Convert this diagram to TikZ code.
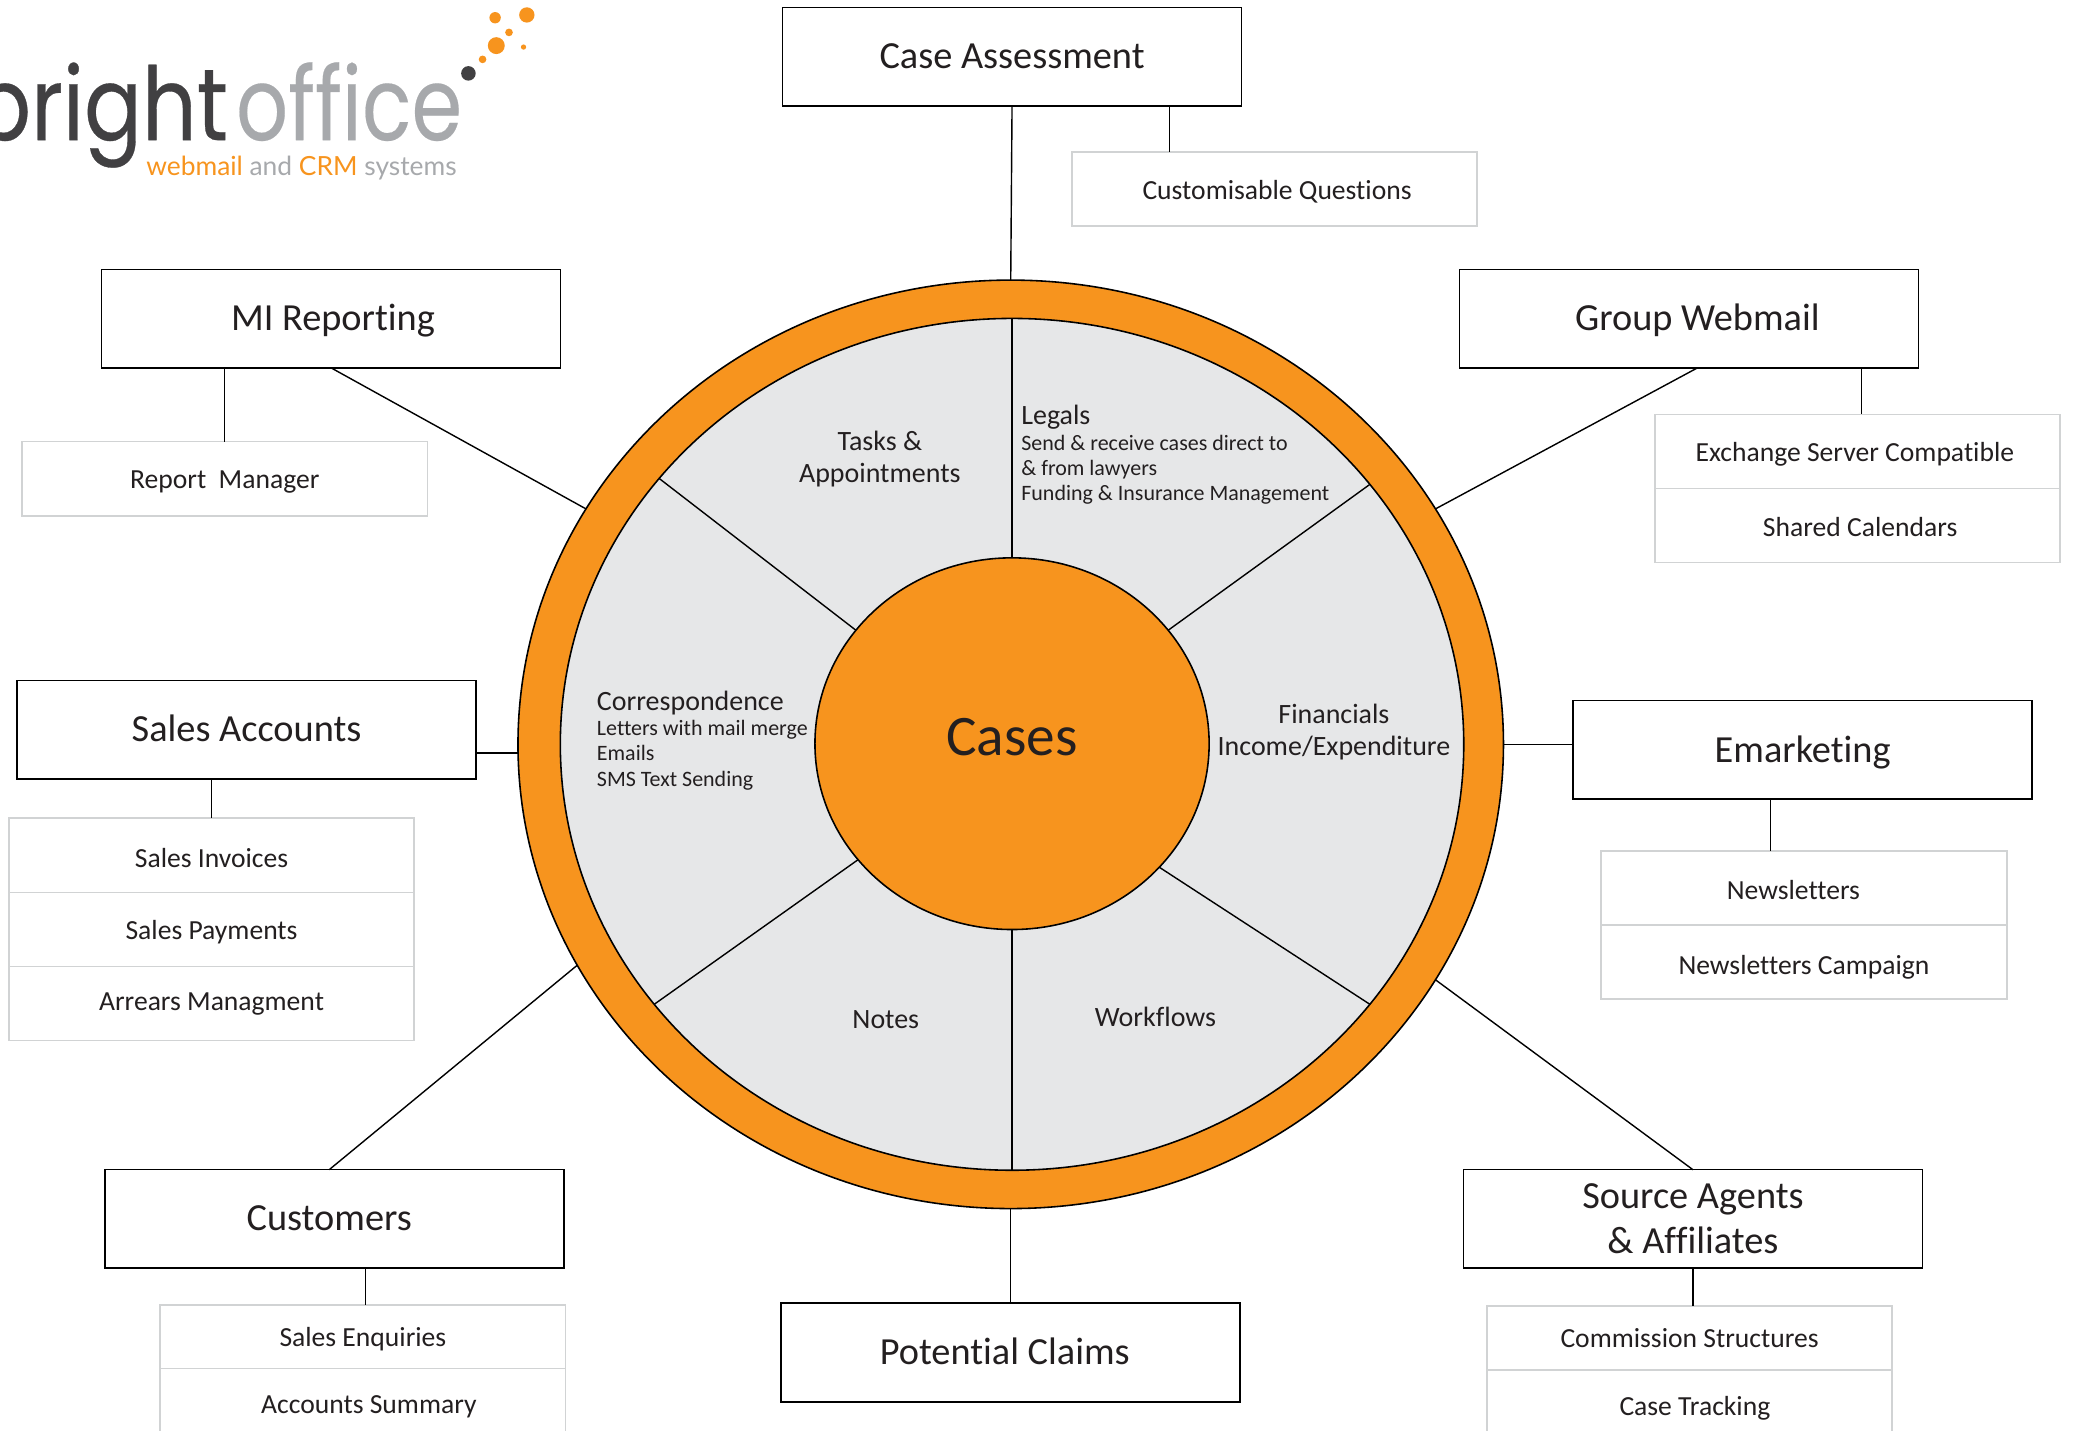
\documentclass[tikz,border=0pt]{standalone}
\usepackage{xcolor}
\usepackage{fontspec}
\usepackage{tikz}
\usetikzlibrary{positioning}
\usetikzlibrary{shapes.geometric}
\setmainfont[Ligatures=NoCommon]{Carlito}
\newfontfamily\brightfont[FakeStretch=0.84,FakeBold=0.3]{Poppins}
\newfontfamily\officefont[FakeStretch=0.8,FakeBold=0.2]{Poppins}
\newfontfamily\tagfont{Lato}
\definecolor{brightorange}{HTML}{F7941E}
\definecolor{wheelgrey}{HTML}{E6E7E8}
\definecolor{subline}{HTML}{D1D3D4}
\definecolor{inktext}{HTML}{231F20}
\definecolor{logodark}{HTML}{414042}
\definecolor{logogrey}{HTML}{A7A9AC}
\newcommand{\wedgehead}{\fontsize{7.95}{9.1}\selectfont}
\begin{document}
\begin{tikzpicture}[x=0.013221cm,y=-0.013221cm,
module/.style={draw=black,fill=white,rectangle,line width=0.45pt,inner sep=0pt,outer sep=0pt,
minimum width=4.588cm,minimum height=0.985cm,align=center,text=inktext,text height=6.6pt,text depth=0pt,font=\fontsize{10.9}{12.7}\selectfont},
feature/.style={draw=subline,fill=white,rectangle,line width=0.5pt,inner sep=0pt,outer sep=0pt,
minimum width=4.052cm,minimum height=0.74cm,align=center,text=inktext,text height=5.5pt,text depth=0pt,font=\fontsize{7.85}{10}\selectfont,node distance=0pt},
wedge/.style={inner sep=0pt,align=center,text=inktext,font=\wedgehead},
detail/.style={inner sep=0pt,align=left,text=inktext,font=\fontsize{6.25}{7.2}\selectfont},
disc/.style={draw=black,ellipse,line width=0.45pt,inner sep=0pt,outer sep=0pt},
link/.style={draw=black,line width=0.4pt}]
\clip (0,0) rectangle (1568,1082);

% logo
\node[anchor=base east,inner sep=0pt,text=logodark,font=\brightfont\fontsize{29}{30}\selectfont] (bright) at (173,106) {bright};
\node[anchor=base west,inner sep=0pt,text=logogrey,font=\officefont\fontsize{29}{30}\selectfont] (office) at (178,106) {office};
\node[anchor=base east,inner sep=0pt,font=\tagfont\fontsize{7.5}{9}\selectfont] (tagline) at (346,133) {\textcolor{brightorange}{webmail} \textcolor{logogrey}{and} \textcolor{brightorange}{CRM} \textcolor{logogrey}{systems}};
\fill[brightorange] (398.5,11.3) circle (5.8);
\fill[brightorange] (374.5,13.4) circle (4.3);
\fill[brightorange] (385,24.5) circle (2.9);
\fill[brightorange] (375.4,34.5) circle (6.4);
\fill[brightorange] (396,35.6) circle (2);
\fill[brightorange] (365,44.9) circle (2.9);
\fill[logodark] (354.3,55.5) circle (5.5);

% wheel
\node[disc,fill=brightorange,minimum width=9.85cm,minimum height=9.28cm] (ring) at (764.5,563) {};
\node[disc,fill=wheelgrey,minimum width=9.03cm,minimum height=8.514cm] (wheel) at (765.5,563) {};
\node[disc,fill=brightorange,minimum width=3.94cm,minimum height=3.715cm,text=inktext,text height=6.6pt,text depth=0pt,font=\fontsize{16.3}{18}\selectfont] (cases) at (765.5,562.5) {Cases};

\draw[link] (cases.90) -- (wheel.90);
\draw[link] (cases.36.7) -- (wheel.36.55);
\draw[link] (cases.-40) -- (wheel.-36.9);
\draw[link] (cases.-90) -- (wheel.-90);
\draw[link] (cases.217.1) -- (wheel.216.9);
\draw[link] (cases.144.8) -- (wheel.143.7);

\node[wedge] (tasks) at (665.5,347) {Tasks \&\\Appointments};
\node[wedge] (financials) at (1009,553.5) {Financials\\Income/Expenditure};
\node[wedge] (notes) at (670,771) {Notes};
\node[wedge] (workflows) at (874,769) {Workflows};
\node[detail,anchor=north west] (legals) at (772,306) {{\wedgehead Legals}\\Send \& receive cases direct to\\\& from lawyers\\Funding \& Insurance Management};
\node[detail,anchor=north west] (correspondence) at (451,522) {{\wedgehead Correspondence}\\Letters with mail merge\\Emails\\SMS Text Sending};

% main modules
\node[module] (assessment) at (765.5,43) {Case Assessment};
\node[module,text height=6.9pt] (reporting) at (250.5,241) {\hspace*{1pt}MI Reporting};
\node[module,text height=6.9pt] (webmail) at (1277.5,241) {\hspace*{4.8pt}Group Webmail};
\node[module] (accounts) at (186.5,552) {Sales Accounts};
\node[module,text height=7.6pt] (emarketing) at (1363.5,567) {Emarketing};
\node[module] (customers) at (253,922) {\hspace*{-1.5pt}Customers\hspace*{1.5pt}};
\node[module,text height=,text depth=] (agents) at (1280.5,922) {Source Agents\\\& Affiliates};
\node[module] (claims) at (764.5,1023) {\hspace*{-1.7pt}Potential Claims\hspace*{1.7pt}};

% features
\node[feature,text height=6.2pt] (questions) at (964,143) {\hspace*{1.5pt}Customisable Questions};
\node[feature] (manager) at (170,362) {Report~ Manager};
\node[feature] (exchange) at (1405,341.5) {\hspace*{-0.75pt}Exchange Server Compatible\hspace*{0.75pt}};
\node[feature,text height=6pt] (calendars) [below=of exchange] {\hspace*{1.5pt}Shared Calendars};
\node[feature,text height=6.7pt] (invoices) at (160,647) {Sales Invoices};
\node[feature] (payments) [below=of invoices] {Sales Payments};
\node[feature,text height=4pt] (arrears) [below=of payments] {Arrears Managment};
\node[feature,text height=6.7pt] (newsletters) at (1364.5,671.5) {\hspace*{-3pt}Newsletters\hspace*{3pt}};
\node[feature,text height=7pt] (campaign) [below=of newsletters] {Newsletters Campaign};
\node[feature,minimum height=0.635cm] (enquiries) at (274.5,1011) {Sales Enquiries};
\node[feature,text height=4.8pt] (summary) [below=of enquiries] {\hspace*{3.4pt}Accounts Summary};
\node[feature,minimum height=0.635cm,text height=5.2pt] (commission) at (1278,1012) {Commission Structures};
\node[feature,text height=4.8pt] (tracking) [below=of commission] {\hspace*{3pt}Case Tracking};

% links
\draw[link] (assessment.south) -- (ring.90);
\draw[link] ([xshift=44.8pt]assessment.south) -- ([xshift=44.8pt]assessment.south |- questions.north);
\draw[link] (reporting.south) -- (ring.151.07);
\draw[link] (manager.north |- reporting.south) -- (manager.north);
\draw[link] ([xshift=2.4pt]webmail.south) -- (ring.29.3);
\draw[link] ([xshift=1.1pt]exchange.north |- webmail.south) -- ([xshift=1.1pt]exchange.north);
\draw[link] (accounts.east |- ring.181.7) -- (ring.181.7);
\draw[link] (invoices.north |- accounts.south) -- (invoices.north);
\draw[link] (emarketing.west |- ring.-0.6) -- (ring.-0.6);
\draw[link] ([xshift=-9.2pt]emarketing.south) -- ([xshift=-9.2pt]emarketing.south |- newsletters.north);
\draw[link] ([xshift=-1.5pt]customers.north) -- (ring.207);
\draw[link] ([xshift=0.8pt]enquiries.north |- customers.south) -- ([xshift=0.8pt]enquiries.north);
\draw[link] (agents.north) -- (ring.-29.3);
\draw[link] (agents.south) -- (agents.south |- commission.north);
\draw[link] (claims.north) -- (ring.-90);
\end{tikzpicture}
\end{document}
